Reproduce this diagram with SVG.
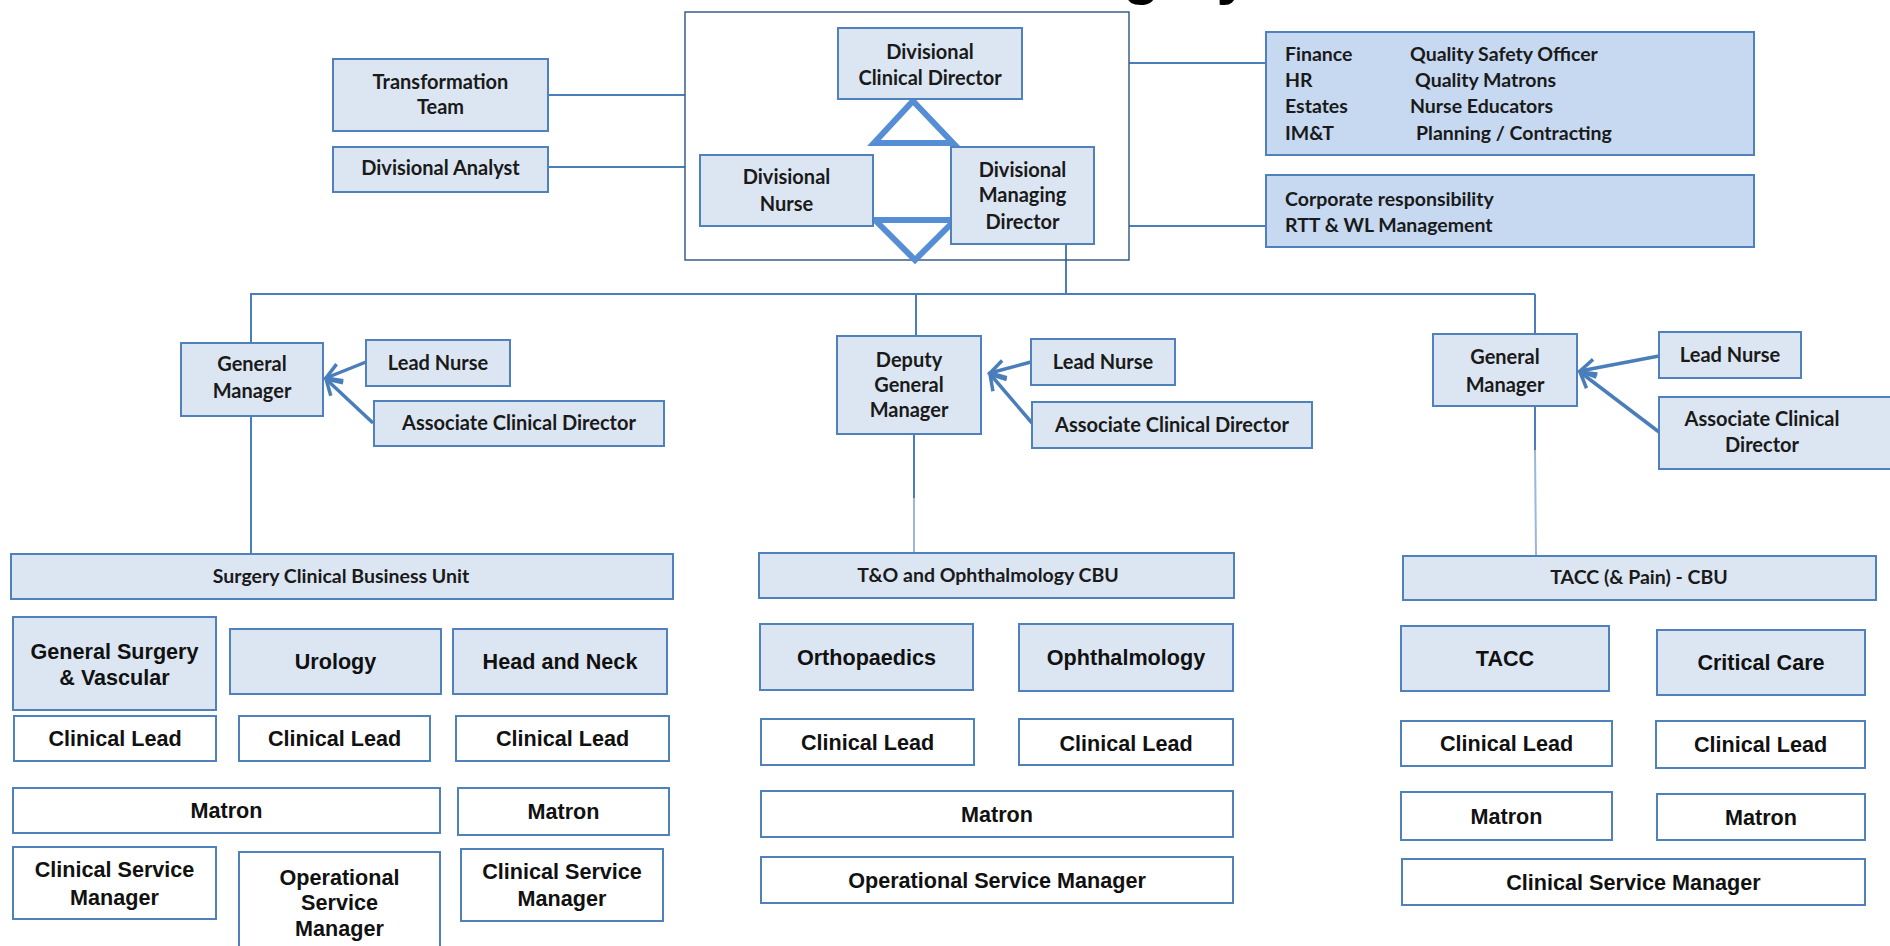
<svg xmlns="http://www.w3.org/2000/svg" width="1890" height="946" viewBox="0 0 1890 946">
<style>
.bg{fill:#ffffff}
.nb{fill:#dce6f2;stroke:#4f81bd;stroke-width:2}
.nw{fill:#ffffff;stroke:#4f81bd;stroke-width:2}
.nd{fill:#c6d9f1;stroke:#4f81bd;stroke-width:2}
.frame{fill:none;stroke:#385d8a;stroke-width:1.5}
.c{fill:none;stroke:#4a7ebb;stroke-width:2}
.cl{fill:none;stroke:#9bb7dc;stroke-width:2}
.ar{fill:none;stroke:#4a7ebb;stroke-width:3.5}
.tri{fill:none;stroke:#558ed5;stroke-width:6;stroke-linejoin:miter}
.t1{font-family:Lato,"Liberation Sans",sans-serif;font-weight:700;font-size:20px;fill:#1a1a1a;text-anchor:middle}
.t2{font-family:Lato,"Liberation Sans",sans-serif;font-weight:700;font-size:19.5px;fill:#1a1a1a;text-anchor:middle}
.t3{font-family:Lato,"Liberation Sans",sans-serif;font-weight:700;font-size:19.5px;fill:#1a1a1a}
.t4{font-family:"Liberation Sans",Arial,sans-serif;font-weight:700;font-size:21.6px;fill:#111111;text-anchor:middle}
.title{font-family:"Liberation Sans",Arial,sans-serif;font-weight:700;font-size:60px;fill:#000000}
</style>
<defs>
<marker id="arr" markerUnits="userSpaceOnUse" markerWidth="22" markerHeight="22" refX="18" refY="11" orient="auto">
<path d="M3,2 L18,11 L3,20" fill="none" stroke="#4a7ebb" stroke-width="3.5"/>
</marker>
</defs>
<rect class="bg" x="0" y="0" width="1890" height="946"/>
<text class="title" x="1023" y="-7">Surgery</text>

<g id="connectors">
<line class="c" x1="548" y1="95" x2="685" y2="95"/>
<line class="c" x1="548" y1="167" x2="685" y2="167"/>
<line class="c" x1="1129" y1="63" x2="1266" y2="63"/>
<line class="c" x1="1129" y1="226" x2="1266" y2="226"/>
<line class="c" x1="1066" y1="245" x2="1066" y2="294"/>
<line class="c" x1="250" y1="294" x2="1535" y2="294"/>
<line class="c" x1="251" y1="294" x2="251" y2="343"/>
<line class="c" x1="916" y1="294" x2="916" y2="336"/>
<line class="c" x1="1535" y1="294" x2="1535" y2="334"/>
<line class="c" x1="251" y1="416" x2="251" y2="554"/>
<line class="c" x1="914" y1="416" x2="914" y2="498"/>
<line class="cl" x1="914" y1="498" x2="914" y2="553"/>
<line class="c" x1="1535" y1="406" x2="1535" y2="450"/>
<line class="cl" x1="1535" y1="450" x2="1536" y2="556"/>
<line class="ar" x1="366" y1="362" x2="326" y2="378" marker-end="url(#arr)"/>
<line class="ar" x1="373" y1="423" x2="326" y2="379" marker-end="url(#arr)"/>
<line class="ar" x1="1031" y1="362" x2="990" y2="373" marker-end="url(#arr)"/>
<line class="ar" x1="1032" y1="423" x2="990" y2="374" marker-end="url(#arr)"/>
<line class="ar" x1="1659" y1="356" x2="1580" y2="371" marker-end="url(#arr)"/>
<line class="ar" x1="1659" y1="432" x2="1580" y2="372" marker-end="url(#arr)"/>
</g>

<g id="division-frame">
<rect class="frame" x="685" y="12" width="444" height="248"/>
<path class="tri" d="M913,101 L953,143 L874,143 Z"/>
<path class="tri" d="M875,220 L955,220 L915,260 Z"/>
</g>

<g id="transformation-team">
<rect class="nb" x="333" y="59" width="215" height="72"/>
<text class="t1" x="440.5" y="89">Transformation</text>
<text class="t1" x="440.5" y="114">Team</text>
</g>
<g id="divisional-analyst">
<rect class="nb" x="333" y="147" width="215" height="45"/>
<text class="t1" x="440.5" y="175">Divisional Analyst</text>
</g>
<g id="divisional-clinical-director">
<rect class="nb" x="838" y="28" width="184" height="71"/>
<text class="t1" x="930" y="59">Divisional</text>
<text class="t1" x="930" y="85">Clinical Director</text>
</g>
<g id="divisional-nurse">
<rect class="nb" x="700" y="155" width="173" height="71"/>
<text class="t1" x="786.5" y="184">Divisional</text>
<text class="t1" x="786.5" y="211">Nurse</text>
</g>
<g id="divisional-managing-director">
<rect class="nb" x="951" y="147" width="143" height="97"/>
<text class="t1" x="1022.5" y="177">Divisional</text>
<text class="t1" x="1022.5" y="202">Managing</text>
<text class="t1" x="1022.5" y="229">Director</text>
</g>
<g id="corporate-services">
<rect class="nd" x="1266" y="32" width="488" height="123"/>
<text class="t3" x="1285" y="61">Finance</text>
<text class="t3" x="1410" y="61">Quality Safety Officer</text>
<text class="t3" x="1285" y="87">HR</text>
<text class="t3" x="1415" y="87">Quality Matrons</text>
<text class="t3" x="1285" y="113">Estates</text>
<text class="t3" x="1410" y="113">Nurse Educators</text>
<text class="t3" x="1285" y="140">IM&amp;T</text>
<text class="t3" x="1416" y="140">Planning / Contracting</text>
</g>
<g id="corporate-responsibility">
<rect class="nd" x="1266" y="175" width="488" height="72"/>
<text class="t3" x="1285" y="206">Corporate responsibility</text>
<text class="t3" x="1285" y="232">RTT &amp; WL Management</text>
</g>

<g id="general-manager-surgery">
<rect class="nb" x="181" y="343" width="142" height="73"/>
<text class="t1" x="252" y="371">General</text>
<text class="t1" x="252" y="398">Manager</text>
</g>
<g id="lead-nurse-surgery">
<rect class="nb" x="366" y="340" width="144" height="46"/>
<text class="t1" x="438" y="370">Lead Nurse</text>
</g>
<g id="acd-surgery">
<rect class="nb" x="374" y="401" width="290" height="45"/>
<text class="t1" x="519" y="430">Associate Clinical Director</text>
</g>
<g id="deputy-general-manager">
<rect class="nb" x="837" y="336" width="144" height="98"/>
<text class="t1" x="909" y="367">Deputy</text>
<text class="t1" x="909" y="392">General</text>
<text class="t1" x="909" y="417">Manager</text>
</g>
<g id="lead-nurse-to">
<rect class="nb" x="1031" y="339" width="144" height="46"/>
<text class="t1" x="1103" y="369">Lead Nurse</text>
</g>
<g id="acd-to">
<rect class="nb" x="1032" y="402" width="280" height="46"/>
<text class="t1" x="1172" y="432">Associate Clinical Director</text>
</g>
<g id="general-manager-tacc">
<rect class="nb" x="1433" y="334" width="144" height="72"/>
<text class="t1" x="1505" y="364">General</text>
<text class="t1" x="1505" y="392">Manager</text>
</g>
<g id="lead-nurse-tacc">
<rect class="nb" x="1659" y="332" width="142" height="46"/>
<text class="t1" x="1730" y="362">Lead Nurse</text>
</g>
<g id="acd-tacc">
<rect class="nb" x="1659" y="397" width="240" height="72"/>
<text class="t1" x="1762" y="426">Associate Clinical</text>
<text class="t1" x="1762" y="452">Director</text>
</g>

<g id="surgery-cbu">
<rect class="nb" x="11" y="554" width="662" height="45"/>
<text class="t2" x="341" y="583">Surgery Clinical Business Unit</text>
</g>
<g id="to-cbu">
<rect class="nb" x="759" y="553" width="475" height="45"/>
<text class="t2" x="988" y="582">T&amp;O and Ophthalmology CBU</text>
</g>
<g id="tacc-cbu">
<rect class="nb" x="1403" y="556" width="473" height="44"/>
<text class="t2" x="1639" y="584">TACC (&amp; Pain) - CBU</text>
</g>

<g id="general-surgery-vascular">
<rect class="nb" x="13" y="617" width="203" height="93"/>
<text class="t4" x="114.5" y="659">General Surgery</text>
<text class="t4" x="114.5" y="685">&amp; Vascular</text>
</g>
<g id="urology">
<rect class="nb" x="230" y="629" width="211" height="65"/>
<text class="t4" x="335.5" y="669">Urology</text>
</g>
<g id="head-and-neck">
<rect class="nb" x="453" y="629" width="214" height="65"/>
<text class="t4" x="560" y="669">Head and Neck</text>
</g>
<g id="clinical-lead-gsv">
<rect class="nw" x="14" y="716" width="202" height="45"/>
<text class="t4" x="115" y="746">Clinical Lead</text>
</g>
<g id="clinical-lead-urology">
<rect class="nw" x="239" y="716" width="191" height="45"/>
<text class="t4" x="334.5" y="746">Clinical Lead</text>
</g>
<g id="clinical-lead-hn">
<rect class="nw" x="456" y="716" width="213" height="45"/>
<text class="t4" x="562.5" y="746">Clinical Lead</text>
</g>
<g id="matron-surgery">
<rect class="nw" x="13" y="788" width="427" height="45"/>
<text class="t4" x="226.5" y="818">Matron</text>
</g>
<g id="matron-hn">
<rect class="nw" x="458" y="788" width="211" height="47"/>
<text class="t4" x="563.5" y="819">Matron</text>
</g>
<g id="csm-surgery">
<rect class="nw" x="13" y="847" width="203" height="72"/>
<text class="t4" x="114.5" y="877">Clinical Service</text>
<text class="t4" x="114.5" y="905">Manager</text>
</g>
<g id="osm-surgery">
<rect class="nw" x="239" y="852" width="201" height="100"/>
<text class="t4" x="339.5" y="885">Operational</text>
<text class="t4" x="339.5" y="910">Service</text>
<text class="t4" x="339.5" y="936">Manager</text>
</g>
<g id="csm-hn">
<rect class="nw" x="461" y="849" width="202" height="72"/>
<text class="t4" x="562" y="879">Clinical Service</text>
<text class="t4" x="562" y="906">Manager</text>
</g>

<g id="orthopaedics">
<rect class="nb" x="760" y="624" width="213" height="66"/>
<text class="t4" x="866.5" y="665">Orthopaedics</text>
</g>
<g id="ophthalmology">
<rect class="nb" x="1019" y="624" width="214" height="67"/>
<text class="t4" x="1126" y="665">Ophthalmology</text>
</g>
<g id="clinical-lead-ortho">
<rect class="nw" x="761" y="719" width="213" height="46"/>
<text class="t4" x="867.5" y="750">Clinical Lead</text>
</g>
<g id="clinical-lead-ophth">
<rect class="nw" x="1019" y="719" width="214" height="46"/>
<text class="t4" x="1126" y="751">Clinical Lead</text>
</g>
<g id="matron-to">
<rect class="nw" x="761" y="791" width="472" height="46"/>
<text class="t4" x="997" y="822">Matron</text>
</g>
<g id="osm-to">
<rect class="nw" x="761" y="857" width="472" height="46"/>
<text class="t4" x="997" y="888">Operational Service Manager</text>
</g>

<g id="tacc">
<rect class="nb" x="1401" y="626" width="208" height="65"/>
<text class="t4" x="1505" y="666">TACC</text>
</g>
<g id="critical-care">
<rect class="nb" x="1657" y="630" width="208" height="65"/>
<text class="t4" x="1761" y="670">Critical Care</text>
</g>
<g id="clinical-lead-tacc">
<rect class="nw" x="1401" y="721" width="211" height="45"/>
<text class="t4" x="1506.5" y="751">Clinical Lead</text>
</g>
<g id="clinical-lead-cc">
<rect class="nw" x="1656" y="721" width="209" height="47"/>
<text class="t4" x="1760.5" y="752">Clinical Lead</text>
</g>
<g id="matron-tacc">
<rect class="nw" x="1401" y="792" width="211" height="48"/>
<text class="t4" x="1506.5" y="824">Matron</text>
</g>
<g id="matron-cc">
<rect class="nw" x="1657" y="794" width="208" height="46"/>
<text class="t4" x="1761" y="825">Matron</text>
</g>
<g id="csm-tacc">
<rect class="nw" x="1402" y="859" width="463" height="46"/>
<text class="t4" x="1633.5" y="890">Clinical Service Manager</text>
</g>
</svg>
